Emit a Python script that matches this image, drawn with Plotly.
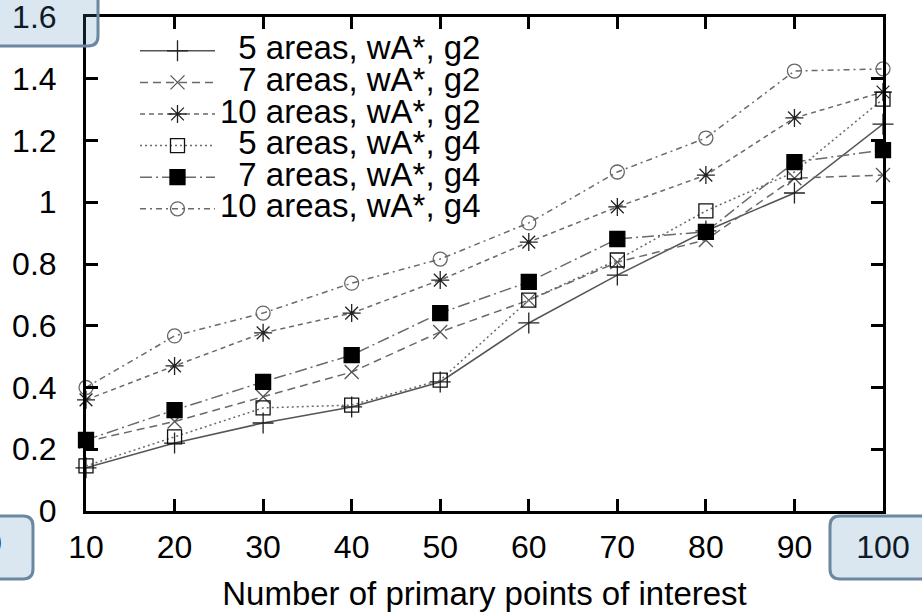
import plotly.graph_objects as go

# Number of primary points of interest
x_points = [10, 20, 30, 40, 50, 60, 70, 80, 90, 100]

# Series values
s5_g2 = [0.14, 0.22, 0.285, 0.337, 0.418, 0.609, 0.764, 0.907, 1.03, 1.253]
s7_g2 = [0.225, 0.29, 0.37, 0.45, 0.58, 0.683, 0.806, 0.878, 1.078, 1.088]
s10_g2 = [0.36, 0.47, 0.577, 0.641, 0.748, 0.871, 0.985, 1.088, 1.273, 1.357]
s5_g4 = [0.146, 0.24, 0.334, 0.343, 0.424, 0.683, 0.813, 0.972, 1.098, 1.334]
s7_g4 = [0.23, 0.327, 0.418, 0.505, 0.641, 0.742, 0.881, 0.904, 1.13, 1.169]
s10_g4 = [0.40, 0.567, 0.641, 0.738, 0.816, 0.933, 1.098, 1.208, 1.425, 1.432]

series_names = ["5 areas, wA*, g2", "7 areas, wA*, g2", "10 areas, wA*, g2",
                "5 areas, wA*, g4", "7 areas, wA*, g4", "10 areas, wA*, g4"]

x_ticks = [10, 20, 30, 40, 50, 60, 70, 80, 90, 100]
y_ticks = [0, 0.2, 0.4, 0.6, 0.8, 1, 1.2, 1.4, 1.6]
y_ticklabels = ["0", "0.2", "0.4", "0.6", "0.8", "1", "1.2", "1.4", "1.6"]

W, H = 922, 614
ML, MR, MT, MB = 86, 39, 17, 103
PW, PH = W - ML - MR, H - MT - MB

FONT = "Liberation Sans, Arial, Helvetica, sans-serif"

styles = [
    dict(dash="solid", lc="#555555", symbol="cross-thin-open", mc="#222222", ms=15),
    dict(dash="8px,5px", lc="#6a6a6a", symbol="x-thin-open", mc="#555555", ms=14),
    dict(dash="5px,4px", lc="#6a6a6a", symbol="asterisk-open", mc="#222222", ms=15),
    dict(dash="2px,3px", lc="#6a6a6a", symbol="square-open", mc="#111111", ms=14),
    dict(dash="12px,4px,2px,4px", lc="#6a6a6a", symbol="square", mc="#000000", ms=15),
    dict(dash="6px,4px,2px,4px", lc="#6a6a6a", symbol="circle-open", mc="#666666", ms=14),
]

all_series = [s5_g2, s7_g2, s10_g2, s5_g4, s7_g4, s10_g4]

fig = go.Figure()
for name, ys, st in zip(series_names, all_series, styles):
    # pad single-digit labels so the legend text lines up on the right
    pad = "\u00a0\u00a0" if name.startswith(("5", "7")) else ""
    fig.add_trace(go.Scatter(
        x=x_points, y=ys, mode="lines+markers",
        name=f"<span style='font-size:33px'>{pad}{name}</span>",
        line=dict(color=st["lc"], width=1.5, dash=st["dash"]),
        marker=dict(symbol=st["symbol"], size=st["ms"], color=st["mc"],
                    line=dict(color=st["mc"], width=1.3)),
        cliponaxis=False,
    ))


def px_x(p):
    return (p - ML) / PW


def px_y(p):
    return (H - MB - p) / PH


def rounded_box(x0, y0, x1, y1, r=10):
    # rounded rectangle in pixel coordinates converted to paper units
    pts = [
        ("M", x0 + r, y0), ("L", x1 - r, y0), ("Q", x1, y0, x1, y0 + r),
        ("L", x1, y1 - r), ("Q", x1, y1, x1 - r, y1), ("L", x0 + r, y1),
        ("Q", x0, y1, x0, y1 - r), ("L", x0, y0 + r), ("Q", x0, y0, x0 + r, y0),
    ]
    parts = []
    for p in pts:
        cmd = p[0]
        coords = p[1:]
        cs = []
        for i in range(0, len(coords), 2):
            cs.append(f"{px_x(coords[i]):.5f},{px_y(coords[i + 1]):.5f}")
        parts.append(cmd + " ".join(cs))
    return "".join(parts) + "Z"


box_style = dict(type="path", xref="paper", yref="paper", layer="above",
                 fillcolor="rgba(70,130,180,0.2)",
                 line=dict(color="#6c87a0", width=3))

fig.update_layout(
    width=W, height=H,
    margin=dict(l=ML, r=MR, t=MT, b=MB, autoexpand=False),
    paper_bgcolor="white", plot_bgcolor="white",
    font=dict(family=FONT, size=32, color="#000000"),
    showlegend=True,
    legend=dict(
        x=px_x(135), y=px_y(30), xanchor="left", yanchor="top",
        bgcolor="rgba(0,0,0,0)", borderwidth=0,
        font=dict(family=FONT, size=22, color="#000000"),
        itemwidth=75, tracegroupgap=0,
    ),
    xaxis=dict(
        range=[10, 100], tickmode="array", tickvals=x_ticks,
        ticks="inside", ticklen=12, tickwidth=3, tickcolor="#000",
        showline=True, linecolor="#000", linewidth=3, mirror="allticks",
        showgrid=False, zeroline=False, ticklabeloverflow="allow",
        automargin=False,
        tickfont=dict(family=FONT, size=32), ticklabelstandoff=6,
        title=dict(text="Number of primary points of interest",
                   font=dict(family=FONT, size=33), standoff=18),
    ),
    yaxis=dict(
        range=[0, 1.6], tickmode="array", tickvals=y_ticks, ticktext=y_ticklabels,
        ticks="inside", ticklen=12, tickwidth=3, tickcolor="#000",
        showline=True, linecolor="#000", linewidth=3, mirror="allticks",
        showgrid=False, zeroline=False, ticklabeloverflow="allow",
        automargin=False,
        tickfont=dict(family=FONT, size=32), ticklabelstandoff=20,
    ),
    shapes=[
        dict(path=rounded_box(-24, -13, 98, 46), **box_style),
        dict(path=rounded_box(-89, 516, 33, 579), **box_style),
        dict(path=rounded_box(830, 516, 952, 579), **box_style),
    ],
    annotations=[
        dict(text="0", xref="paper", yref="paper", x=px_x(4), y=px_y(543),
             xanchor="right", yanchor="middle", showarrow=False,
             font=dict(family=FONT, size=32, color="#000")),
    ],
)

fig.write_html("out.html")
